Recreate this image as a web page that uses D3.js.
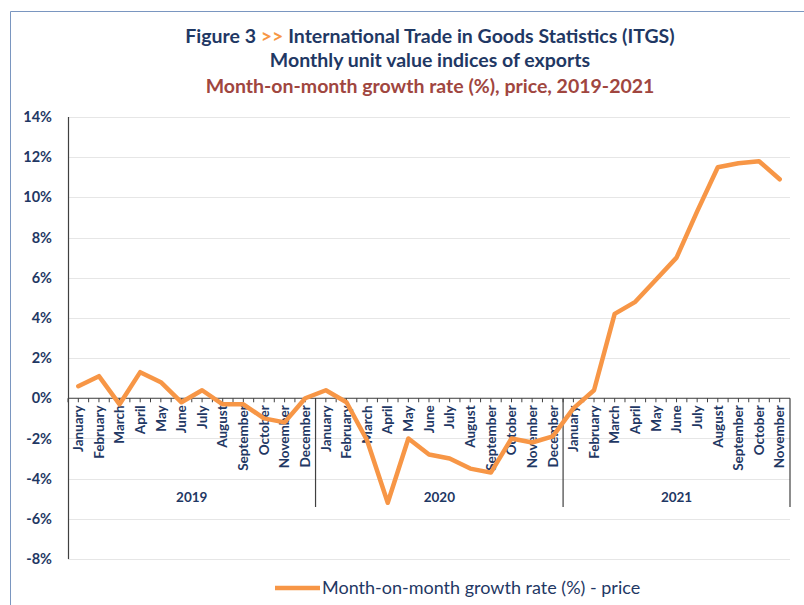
<!DOCTYPE html>
<html>
<head>
<meta charset="utf-8">
<script src="https://cdn.jsdelivr.net/npm/d3@7"></script>
<style>
  body { margin: 0; background: #fff; }
  text { font-family: Lato, "Open Sans", sans-serif; }
</style>
</head>
<body>
<svg id="chart"></svg>
<script>
// data
var years = ["2019", "2020", "2021"];
var monthNames = ["January", "February", "March", "April", "May", "June",
                  "July", "August", "September", "October", "November", "December"];
var monthsPerYear = [12, 12, 11];
var growth = [
  0.6, 1.1, -0.3, 1.3, 0.8, -0.2, 0.4, -0.3, -0.3, -1.0, -1.2, 0.0,
  0.4, -0.2, -2.1, -5.2, -2.0, -2.8, -3.0, -3.5, -3.7, -2.0, -2.2, -1.9,
  -0.5, 0.4, 4.2, 4.8, 5.9, 7.0, 9.3, 11.5, 11.7, 11.8, 10.9
];
var yTicks = [14, 12, 10, 8, 6, 4, 2, 0, -2, -4, -6, -8];
var seriesName = "Month-on-month growth rate (%) - price";

var W = 804, H = 605;
var navy = "#1f3864", orange = "#f79646";

var svg = d3.select("#chart").attr("width", W).attr("height", H);

// outer frame (only top and left edges show)
svg.append("path")
  .attr("d", "M10.5," + H + " V11.5 H" + W)
  .attr("fill", "none")
  .attr("stroke", "#7a96c0")
  .attr("stroke-width", 1);

// titles
var t1 = svg.append("text")
  .attr("x", 430).attr("y", 43)
  .attr("text-anchor", "middle")
  .style("font-size", "19.5px").style("font-weight", "bold")
  .attr("fill", navy);
t1.append("tspan").text("Figure 3 ");
t1.append("tspan").attr("fill", orange).text(">>");
t1.append("tspan").text(" International Trade in Goods Statistics (ITGS)");

svg.append("text")
  .attr("x", 430).attr("y", 67)
  .attr("text-anchor", "middle")
  .style("font-size", "19.5px").style("font-weight", "bold")
  .attr("fill", navy)
  .text("Monthly unit value indices of exports");

svg.append("text")
  .attr("x", 430).attr("y", 93)
  .attr("text-anchor", "middle")
  .style("font-size", "19.5px").style("font-weight", "bold")
  .attr("fill", "#a0463f")
  .text("Month-on-month growth rate (%), price, 2019-2021");

// categories
var cats = [];
years.forEach(function(yr, i) {
  for (var m = 0; m < monthsPerYear[i]; m++) {
    cats.push({ key: yr + "-" + m, year: yr, month: monthNames[m] });
  }
});
cats.forEach(function(c, i) { c.value = growth[i]; });

var x = d3.scaleBand()
  .domain(cats.map(function(d) { return d.key; }))
  .range([68, 790])
  .padding(0);

var y = d3.scaleLinear()
  .domain([-8, 14])
  .range([559, 117]);

var y0 = y(0);

// gridlines
svg.append("g")
  .selectAll("line")
  .data(yTicks)
  .join("line")
  .attr("x1", 68).attr("x2", 790)
  .attr("y1", function(d) { return Math.round(y(d)) + 0.5; })
  .attr("y2", function(d) { return Math.round(y(d)) + 0.5; })
  .attr("stroke", "#e6e6e6")
  .attr("stroke-width", 1);

// y axis labels
svg.append("g")
  .selectAll("text")
  .data(yTicks)
  .join("text")
  .attr("x", 52)
  .attr("y", function(d) { return y(d); })
  .attr("dy", "0.35em")
  .attr("text-anchor", "end")
  .style("font-size", "14.5px").style("font-weight", "bold")
  .attr("fill", navy)
  .text(function(d) { return d + "%"; });

// y axis line
svg.append("line")
  .attr("x1", 68.5).attr("x2", 68.5)
  .attr("y1", y(14)).attr("y2", y(-8))
  .attr("stroke", "#404040").attr("stroke-width", 1.2);

// category axis at zero
svg.append("line")
  .attr("x1", 68).attr("x2", 790)
  .attr("y1", y0).attr("y2", y0)
  .attr("stroke", "#404040").attr("stroke-width", 1.2);

// small ticks every half category
var tickPos = [];
cats.forEach(function(c) {
  tickPos.push(x(c.key));
  tickPos.push(x(c.key) + x.bandwidth() / 2);
});
svg.append("g")
  .selectAll("line")
  .data(tickPos)
  .join("line")
  .attr("x1", function(d) { return d; }).attr("x2", function(d) { return d; })
  .attr("y1", y0).attr("y2", y0 + 4)
  .attr("stroke", "#404040").attr("stroke-width", 1);

// year separators
var bounds = [0];
monthsPerYear.reduce(function(acc, n) { bounds.push(acc + n); return acc + n; }, 0);
svg.append("g")
  .selectAll("line")
  .data(bounds.slice(1))
  .join("line")
  .attr("x1", function(i) { return i < cats.length ? x(cats[i].key) : 790; })
  .attr("x2", function(i) { return i < cats.length ? x(cats[i].key) : 790; })
  .attr("y1", y0).attr("y2", 507)
  .attr("stroke", "#404040").attr("stroke-width", 1.2);

// month labels
svg.append("g")
  .selectAll("text")
  .data(cats)
  .join("text")
  .attr("transform", function(d) {
    return "translate(" + (x(d.key) + x.bandwidth() / 2) + "," + (y0 + 7) + ") rotate(-90)";
  })
  .attr("dy", "0.35em")
  .attr("text-anchor", "end")
  .style("font-size", "13.5px").style("font-weight", "bold")
  .attr("fill", navy)
  .text(function(d) { return d.month; });

// year labels
svg.append("g")
  .selectAll("text")
  .data(years)
  .join("text")
  .attr("x", function(d, i) {
    var a = x(cats[bounds[i]].key);
    var b = bounds[i + 1] < cats.length ? x(cats[bounds[i + 1]].key) : 790;
    return (a + b) / 2;
  })
  .attr("y", 497)
  .attr("dy", "0.35em")
  .attr("text-anchor", "middle")
  .style("font-size", "13.5px").style("font-weight", "bold")
  .attr("fill", navy)
  .text(function(d) { return d; });

// series line
var line = d3.line()
  .x(function(d) { return x(d.key) + x.bandwidth() / 2; })
  .y(function(d) { return y(d.value); });

svg.append("path")
  .datum(cats)
  .attr("d", line)
  .attr("fill", "none")
  .attr("stroke", orange)
  .attr("stroke-width", 4.5)
  .attr("stroke-linejoin", "round")
  .attr("stroke-linecap", "round");

// legend
svg.append("line")
  .attr("x1", 275).attr("x2", 320)
  .attr("y1", 588).attr("y2", 588)
  .attr("stroke", orange).attr("stroke-width", 4.5);

svg.append("text")
  .attr("x", 322).attr("y", 588)
  .attr("dy", "0.35em")
  .style("font-size", "18px")
  .attr("fill", navy)
  .text(seriesName);
</script>
</body>
</html>
